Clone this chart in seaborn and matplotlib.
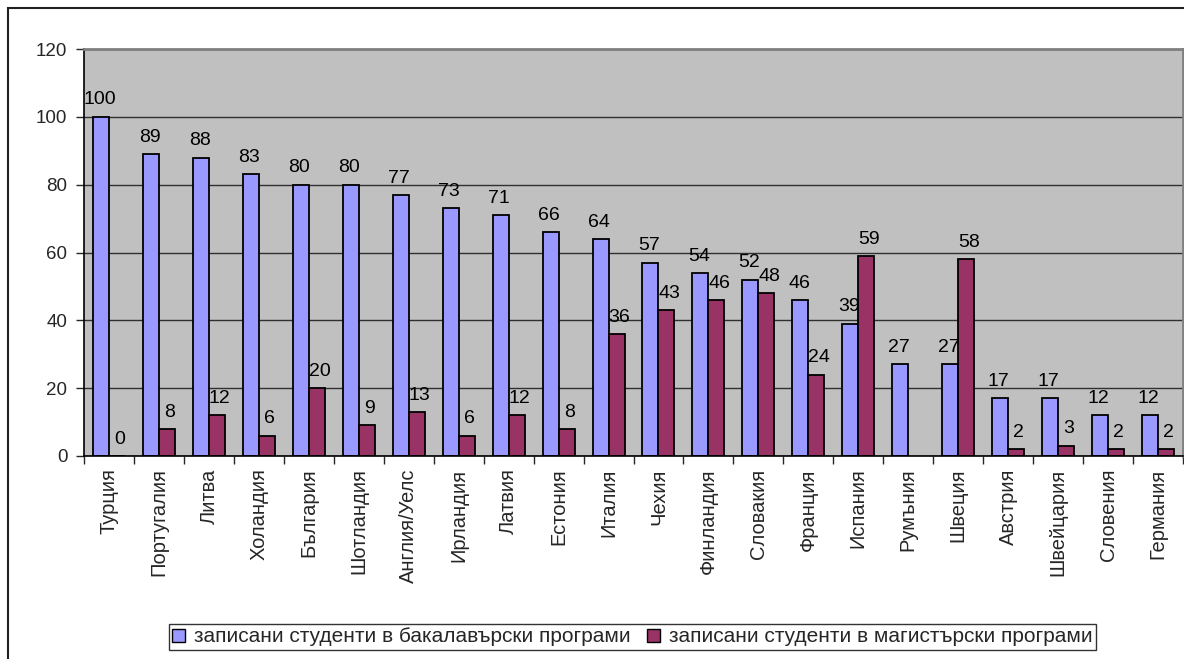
import matplotlib
matplotlib.use("Agg")
import matplotlib.pyplot as plt
from matplotlib.patches import Rectangle
import numpy as np
import pandas as pd
import seaborn as sns

countries = ["Турция", "Португалия", "Литва", "Холандия", "България", "Шотландия",
             "Англия/Уелс", "Ирландия", "Латвия", "Естония", "Италия", "Чехия",
             "Финландия", "Словакия", "Франция", "Испания", "Румъния", "Швеция",
             "Австрия", "Швейцария", "Словения", "Германия"]
bachelor = [100, 89, 88, 83, 80, 80, 77, 73, 71, 66, 64, 57, 54, 52, 46, 39, 27, 27, 17, 17, 12, 12]
master = [0, 8, 12, 6, 20, 9, 13, 6, 12, 8, 36, 43, 46, 48, 24, 59, np.nan, 58, 2, 3, 2, 2]
series_names = ["записани студенти в бакалавърски програми",
                "записани студенти в магистърски програми"]
colors = ["#9999FF", "#993366"]
yticks = [0, 20, 40, 60, 80, 100, 120]

df = pd.DataFrame({
    "country": countries * 2,
    "value": bachelor + master,
    "series": [series_names[0]] * len(countries) + [series_names[1]] * len(countries),
})

sns.set_style("white")
plt.rcParams["font.family"] = ["Liberation Sans", "DejaVu Sans"]

fig = plt.figure(figsize=(11.84, 6.59), dpi=100)
ax = fig.add_axes([84 / 1184, 1 - 456 / 659, (1183 - 84) / 1184, (456 - 49) / 659])
ax.set_facecolor("#C0C0C0")

sns.barplot(data=df, x="country", y="value", hue="series", palette=colors,
            width=0.64, edgecolor="black", linewidth=1.3, ax=ax, legend=True,
            saturation=1)

ax.set_ylim(0, 120)
ax.set_xlim(-0.5, len(countries) - 0.5)
ax.set_yticks(yticks)
ax.set_yticklabels([str(t) for t in yticks], fontsize=13.5)
ax.yaxis.grid(True, color="#303030", linewidth=1.0)
ax.set_axisbelow(True)
ax.set_xlabel("")
ax.set_ylabel("")

ax.set_xticks(range(len(countries)))
ax.set_xticklabels(countries, rotation=90, fontsize=14.5)
ax.tick_params(axis="x", length=0, pad=9)
ax.tick_params(axis="y", length=6, width=1, direction="out", left=True, pad=6)
ax.set_xticks(np.arange(-0.5, len(countries), 1.0), minor=True)
ax.tick_params(axis="x", which="minor", length=6, width=1, direction="out", bottom=True)

for side in ["left", "bottom"]:
    ax.spines[side].set_color("black")
    ax.spines[side].set_linewidth(1.2)
for side in ["top", "right"]:
    ax.spines[side].set_visible(True)
    ax.spines[side].set_color("#808080")
    ax.spines[side].set_linewidth(2)

# data labels
for ci, cont in enumerate(ax.containers):
    dx = -1 if ci == 0 else 2
    for patch in cont.patches:
        h = patch.get_height()
        if h is None or np.isnan(h):
            continue
        ax.annotate(f"{int(round(h))}", (patch.get_x() + patch.get_width() / 2, h),
                    xytext=(dx, 6), textcoords="offset points", ha="center", va="bottom",
                    fontsize=14, color="black")

leg = ax.legend(loc="center", bbox_to_anchor=((157 + 1108) / 2 / 1184, 1 - 637 / 659),
                bbox_transform=fig.transFigure, ncol=2, frameon=True, fancybox=False,
                edgecolor="black", fontsize=15, handlelength=0.6, handleheight=0.6,
                handletextpad=0.45, columnspacing=0.8, borderpad=0.15, borderaxespad=0)
leg.get_frame().set_linewidth(1.0)
for h in leg.legend_handles:
    h.set_edgecolor("black")
    h.set_linewidth(1.0)

# chart area border
fig.patches.append(Rectangle((8 / 1184, -0.1), 1.2, 1 - 8 / 659 + 0.1,
                             transform=fig.transFigure, fill=False,
                             edgecolor="#202020", linewidth=1.5))

fig.savefig("out.png", dpi=100)
